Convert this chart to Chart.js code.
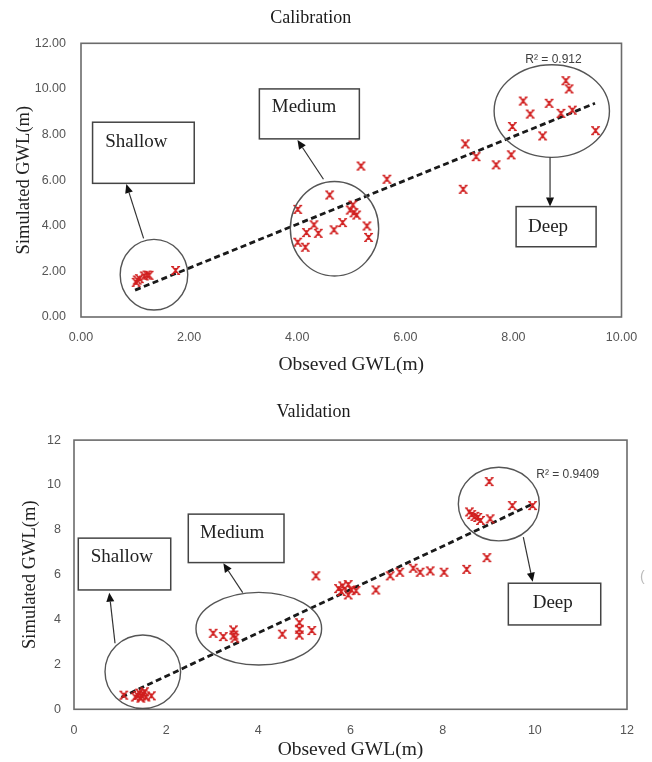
<!DOCTYPE html>
<html><head><meta charset="utf-8">
<script src="https://cdn.jsdelivr.net/npm/chart.js@4"></script>
<style>
html,body{margin:0;padding:0;background:#fff;}
#wrap{position:relative;width:652px;height:762px;overflow:hidden;}
#c1{position:absolute;left:0;top:0;}
#c2{position:absolute;left:0;top:390px;}
</style></head><body>
<div id="wrap"><canvas id="c1" width="652" height="390"></canvas><canvas id="c2" width="652" height="372"></canvas></div>
<script>
// ---------- Calibration data ----------
const calObserved = [1.02,1.04,1.08,1.17,1.22,1.26,1.75,
  4.01,4.60,4.01,4.15,4.17,4.31,4.39,4.68,4.84,4.98,5.03,5.05,5.10,5.29,5.32,5.18,5.66,
  7.07,7.11,7.31,7.68,7.96,7.98,
  8.18,8.31,8.54,8.66,8.88,8.97,9.03,9.09,9.52];
const calSimulated = [1.52,1.62,1.68,1.80,1.84,1.83,2.04,
  4.72,5.35,3.28,3.06,3.70,4.04,3.67,3.82,4.14,4.69,4.91,4.57,4.47,3.99,3.49,6.62,6.04,
  5.60,7.59,7.03,6.67,7.11,8.35,
  9.47,8.90,7.94,9.37,8.93,10.36,10.00,9.07,8.17];
const calTrendX = [1.00, 9.51];
const calTrendY = [1.18, 9.37];
const calXTicks = ['0.00','2.00','4.00','6.00','8.00','10.00'];
const calYTicks = ['0.00','2.00','4.00','6.00','8.00','10.00','12.00'];
const calR2 = 'R² = 0.912';

// ---------- Validation data ----------
const valObserved = [1.08,1.33,1.38,1.42,1.45,1.47,1.50,1.53,1.56,1.68,
  3.02,3.24,3.46,3.47,3.49,4.52,4.89,4.89,4.89,5.16,5.25,
  5.74,5.80,5.83,5.95,5.95,6.02,6.12,6.55,6.86,7.07,7.36,7.51,7.73,8.03,8.52,8.96,
  8.58,8.63,8.70,8.76,8.82,9.03,9.01,9.51,9.95];
const valSimulated = [0.63,0.55,0.62,0.72,0.50,0.60,0.68,0.78,0.55,0.60,
  3.39,3.24,3.54,3.31,3.17,3.35,3.86,3.57,3.31,3.51,5.95,
  5.38,5.25,5.50,5.56,5.10,5.32,5.29,5.32,5.95,6.11,6.29,6.11,6.17,6.11,6.24,6.76,
  8.80,8.68,8.60,8.55,8.42,8.49,10.15,9.08,9.08];
const valTrendX = [1.03, 9.95];
const valTrendY = [0.54, 9.15];
const valXTicks = ['0','2','4','6','8','10','12'];
const valYTicks = ['0','2','4','6','8','10','12'];
const valR2 = 'R² = 0.9409';

const zip = (xs, ys) => xs.map((x, i) => ({x, y: ys[i]}));

function makeMarker() {
  const c = document.createElement('canvas');
  c.width = 11; c.height = 11;
  const g = c.getContext('2d');
  g.strokeStyle = '#d11f1f'; g.lineWidth = 1.6; g.lineCap = 'butt';
  g.beginPath();
  g.moveTo(2.5, 2); g.lineTo(8.5, 9);
  g.moveTo(8.5, 2); g.lineTo(2.5, 9);
  g.moveTo(5.5, 3); g.lineTo(5.5, 8);
  g.stroke();
  g.lineWidth = 1.2;
  g.beginPath();
  g.moveTo(1, 1.6); g.lineTo(3.8, 1.6);
  g.moveTo(7.2, 1.6); g.lineTo(10, 1.6);
  g.moveTo(1, 9.4); g.lineTo(3.8, 9.4);
  g.moveTo(7.2, 9.4); g.lineTo(10, 9.4);
  g.stroke();
  return c;
}
const marker = makeMarker();

const annotPlugin = {
  id: 'annot',
  beforeDatasetsDraw(chart) {
    const {ctx, chartArea: a} = chart;
    ctx.save();
    ctx.strokeStyle = '#6b6b6b'; ctx.lineWidth = 1.6;
    ctx.strokeRect(a.left, a.top, a.right - a.left, a.bottom - a.top);
    ctx.restore();
  },
  afterDatasetsDraw(chart, args, o) {
    const ctx = chart.ctx;
    const xs = chart.scales.x, ys = chart.scales.y;
    const X = v => xs.getPixelForValue(v), Y = v => ys.getPixelForValue(v);
    ctx.save();
    (o.ellipses || []).forEach(e => {
      ctx.beginPath();
      ctx.ellipse(X(e.cx), Y(e.cy), Math.abs(X(e.cx + e.rx) - X(e.cx)), Math.abs(Y(e.cy + e.ry) - Y(e.cy)), 0, 0, Math.PI * 2);
      ctx.strokeStyle = '#555'; ctx.lineWidth = 1.4; ctx.stroke();
    });
    (o.arrows || []).forEach(ar => {
      const x1 = X(ar.x1), y1 = Y(ar.y1), x2 = X(ar.x2), y2 = Y(ar.y2);
      const ang = Math.atan2(y2 - y1, x2 - x1);
      const L = 9, W = 4;
      const bx = x2 - L * Math.cos(ang), by = y2 - L * Math.sin(ang);
      ctx.beginPath(); ctx.moveTo(x1, y1); ctx.lineTo(bx, by);
      ctx.strokeStyle = '#333'; ctx.lineWidth = 1.2; ctx.stroke();
      ctx.beginPath(); ctx.moveTo(x2, y2);
      ctx.lineTo(bx + W * Math.sin(ang), by - W * Math.cos(ang));
      ctx.lineTo(bx - W * Math.sin(ang), by + W * Math.cos(ang));
      ctx.closePath(); ctx.fillStyle = '#111'; ctx.fill();
    });
    (o.boxes || []).forEach(b => {
      const l = X(b.x1), r = X(b.x2), t = Y(b.y1), bt = Y(b.y2);
      ctx.fillStyle = '#fff'; ctx.fillRect(l, t, r - l, bt - t);
      ctx.strokeStyle = '#444'; ctx.lineWidth = 1.5; ctx.strokeRect(l, t, r - l, bt - t);
      ctx.fillStyle = '#222'; ctx.font = '19px "Liberation Serif"';
      ctx.textAlign = 'left'; ctx.textBaseline = 'middle';
      ctx.fillText(b.text, X(b.tx), Y(b.ty));
    });
    (o.texts || []).forEach(t => {
      ctx.fillStyle = t.color; ctx.font = t.font;
      ctx.textAlign = 'left'; ctx.textBaseline = 'middle';
      ctx.fillText(t.text, X(t.x), Y(t.y));
    });
    ctx.restore();
  }
};

function makeChart(id, cfg) {
  return new Chart(document.getElementById(id), {
    type: 'scatter',
    data: {
      datasets: [
        {data: zip(cfg.obs, cfg.sim), pointStyle: marker, pointRadius: 5, order: 1},
        {data: zip(cfg.trendX, cfg.trendY), showLine: true, pointRadius: 0,
         borderColor: '#1a1a1a', borderWidth: 2.8, borderDash: [6, 3.5], order: 2}
      ]
    },
    options: {
      responsive: false, animation: false,
      layout: {padding: {left: 0, right: cfg.padRight, top: 0, bottom: 0}},
      plugins: {
        legend: {display: false}, tooltip: {enabled: false},
        title: {display: true, text: cfg.title, color: '#1a1a1a',
          font: {family: 'Liberation Serif', size: 18, weight: 'normal'},
          padding: {top: cfg.titleTop, bottom: cfg.titleBottom}},
        annot: cfg.annot
      },
      scales: {
        x: {type: 'linear', min: 0, max: cfg.xmax,
          grid: {display: false, drawTicks: false, tickLength: 0}, border: {display: false},
          ticks: {stepSize: 2, padding: cfg.xTickPad, color: '#555', font: {family: 'Liberation Sans', size: 12.5},
            callback: (v, i) => cfg.xTicks[i]},
          title: {display: true, text: 'Obseved GWL(m)', color: '#222',
            font: {family: 'Liberation Serif', size: 19.5}, padding: {top: 0, bottom: cfg.xTitlePad}},
          afterFit: s => { s.height = cfg.xAxisH; }
        },
        y: {type: 'linear', min: 0, max: 12,
          grid: {display: false, drawTicks: false, tickLength: 0}, border: {display: false},
          ticks: {stepSize: 2, padding: cfg.yTickPad, color: '#555', font: {family: 'Liberation Sans', size: 12.5},
            callback: (v, i) => cfg.yTicks[i]},
          title: {display: true, text: 'Simulated GWL(m)', color: '#222',
            font: {family: 'Liberation Serif', size: 18.5}, padding: {top: cfg.yTitlePad, bottom: 0}},
          afterFit: s => { s.width = cfg.yAxisW; }
        }
      }
    },
    plugins: [annotPlugin]
  });
}

makeChart('c1', {
  obs: calObserved, sim: calSimulated, trendX: calTrendX, trendY: calTrendY,
  xTicks: calXTicks, yTicks: calYTicks, title: 'Calibration', xmax: 10,
  padRight: 30.5, titleTop: 7.5, titleBottom: 14.2, xTickPad: 13, xTitlePad: 13.5, xAxisH: 73,
  yTickPad: 15, yTitlePad: 13.5, yAxisW: 81,
  annot: {
    ellipses: [
      {cx: 1.35, cy: 1.855, rx: 0.625, ry: 1.55},
      {cx: 4.69, cy: 3.87, rx: 0.817, ry: 2.07},
      {cx: 8.71, cy: 9.03, rx: 1.067, ry: 2.03}
    ],
    arrows: [
      {x1: 1.158, y1: 3.45, x2: 0.838, y2: 5.83},
      {x1: 4.486, y1: 6.04, x2: 4.005, y2: 7.76},
      {x1: 8.678, y1: 7.00, x2: 8.678, y2: 4.84}
    ],
    boxes: [
      {x1: 0.214, x2: 2.095, y1: 8.54, y2: 5.86, text: 'Shallow', tx: 0.449, ty: 7.69},
      {x1: 3.30, x2: 5.15, y1: 10.0, y2: 7.81, text: 'Medium', tx: 3.53, ty: 9.20},
      {x1: 8.05, x2: 9.53, y1: 4.84, y2: 3.08, text: 'Deep', tx: 8.27, ty: 3.96}
    ],
    texts: [{text: calR2, x: 8.22, y: 11.30, color: '#404040', font: '12px "Liberation Sans"'}]
  }
});

makeChart('c2', {
  obs: valObserved, sim: valSimulated, trendX: valTrendX, trendY: valTrendY,
  xTicks: valXTicks, yTicks: valYTicks, title: 'Validation', xmax: 12,
  padRight: 25, titleTop: 11.5, titleBottom: 17, xTickPad: 14, xTitlePad: 0, xAxisH: 52.7,
  yTickPad: 13, yTitlePad: 19, yAxisW: 74,
  annot: {
    ellipses: [
      {cx: 1.493, cy: 1.677, rx: 0.82, ry: 1.637},
      {cx: 4.01, cy: 3.595, rx: 1.363, ry: 1.619},
      {cx: 9.219, cy: 9.148, rx: 0.879, ry: 1.641}
    ],
    arrows: [
      {x1: 0.89, y1: 2.944, x2: 0.766, y2: 5.20},
      {x1: 3.661, y1: 5.20, x2: 3.24, y2: 6.51},
      {x1: 9.75, y1: 7.67, x2: 9.954, y2: 5.69}
    ],
    boxes: [
      {x1: 0.093, x2: 2.099, y1: 7.63, y2: 5.32, text: 'Shallow', tx: 0.362, ty: 6.81},
      {x1: 2.48, x2: 4.557, y1: 8.70, y2: 6.54, text: 'Medium', tx: 2.734, ty: 7.85},
      {x1: 9.425, x2: 11.43, y1: 5.62, y2: 3.76, text: 'Deep', tx: 9.954, ty: 4.75}
    ],
    texts: [
      {text: valR2, x: 10.03, y: 10.45, color: '#404040', font: '12px "Liberation Sans"'},
      {text: '(', x: 12.28, y: 5.91, color: '#bbbbbb', font: '14px "Liberation Sans"'}
    ]
  }
});
</script>
</body></html>
